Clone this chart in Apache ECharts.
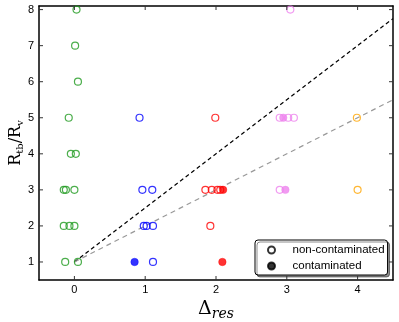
<!DOCTYPE html>
<html>
<head>
<meta charset="utf-8">
<script src="https://cdn.jsdelivr.net/npm/echarts@6/dist/echarts.min.js"></script>
<style>
  html, body { margin: 0; padding: 0; background: #fff; }
  #chart { width: 399px; height: 322px; }
</style>
</head>
<body>
<div id="chart"></div>
<script>
// open = non-contaminated, filled = contaminated
const greenOpen = [[0.03, 8], [0.01, 7], [0.05, 6], [-0.08, 5], [-0.05, 4], [0.02, 4],
  [-0.15, 3], [-0.12, 3], [0.0, 3], [-0.15, 2], [-0.07, 2], [0.0, 2], [-0.13, 1], [0.05, 1]];
const blueOpen = [[0.92, 5], [0.96, 3], [1.1, 3], [0.98, 2], [1.02, 2], [1.11, 2], [1.11, 1]];
const blueFilled = [[0.85, 1]];
const redOpen = [[1.99, 5], [1.85, 3], [1.94, 3], [2.02, 3], [2.06, 3], [1.92, 2]];
const redFilled = [[2.1, 3], [2.09, 1]];
const violetOpen = [[3.05, 8], [2.9, 5], [3.02, 5], [3.1, 5], [2.9, 3]];
const violetFilled = [[2.95, 5], [2.98, 3]];
const orangeOpen = [[3.99, 5], [4.0, 3]];

// dashed guide lines through (0,1)
const steepLine = [[0, 1], [4.5, 7.75]];
const shallowLine = [[0, 1], [4.5, 5.5]];

const xTicks = [0, 1, 2, 3, 4];
const yTicks = [1, 2, 3, 4, 5, 6, 7, 8];
const xRange = [-0.5, 4.5];
const yRange = [0.5, 8.1];

const chart = echarts.init(document.getElementById("chart"));

function openSeries(data, color) {
  return {
    type: "scatter",
    data: data,
    symbol: "circle",
    symbolSize: 7,
    itemStyle: { color: "rgba(0,0,0,0)", borderColor: color, borderWidth: 1.2 },
    z: 3,
  };
}
function filledSeries(data, color) {
  return {
    type: "scatter",
    data: data,
    symbol: "circle",
    symbolSize: 7.5,
    itemStyle: { color: color, borderColor: color, borderWidth: 0.5 },
    z: 4,
  };
}

// inward tick marks on the four sides of the frame
function tickSeries(points, dx, dy) {
  return {
    type: "custom",
    coordinateSystem: "cartesian2d",
    silent: true,
    clip: false,
    z: 5,
    data: points,
    renderItem: (params, api) => {
      const p = api.coord([api.value(0), api.value(1)]);
      return {
        type: "line",
        shape: { x1: p[0], y1: p[1], x2: p[0] + dx, y2: p[1] + dy },
        style: { stroke: "#333", lineWidth: 1 },
      };
    },
  };
}

const frame = { show: true, onZero: false, lineStyle: { color: "#000", width: 1.5 } };
const labelFont = { fontFamily: "Liberation Sans", fontSize: 11, color: "#000" };

const option = {
  backgroundColor: "#fff",
  animation: false,
  grid: { left: 39, right: 6, top: 6, bottom: 42, outerBoundsMode: "none", containLabel: false },
  xAxis: [
    {
      type: "value",
      min: xRange[0],
      max: xRange[1],
      axisLine: frame,
      axisTick: { show: false },
      axisLabel: Object.assign({ margin: 4, customValues: xTicks }, labelFont),
      splitLine: { show: false },
      name: "{d|Δ}{s|res}",
      nameLocation: "middle",
      nameGap: 16,
      nameTextStyle: {
        rich: {
          d: { fontFamily: "DejaVu Serif", fontSize: 19, color: "#000" },
          s: { fontFamily: "DejaVu Serif", fontStyle: "italic", fontSize: 14, color: "#000", padding: [10, 0, 0, 0] },
        },
      },
    },
    {
      type: "value",
      position: "top",
      min: xRange[0],
      max: xRange[1],
      axisLine: frame,
      axisTick: { show: false },
      axisLabel: { show: false },
      splitLine: { show: false },
    },
  ],
  yAxis: [
    {
      type: "value",
      min: yRange[0],
      max: yRange[1],
      axisLine: frame,
      axisTick: { show: false },
      axisLabel: Object.assign({ margin: 5, customValues: yTicks }, labelFont),
      splitLine: { show: false },
      name: "{r|R}{s|tb}{r|/R}{s|v}",
      nameLocation: "middle",
      nameRotate: 90,
      nameGap: 14,
      nameMoveOverlap: false,
      nameTextStyle: {
        rich: {
          r: { fontFamily: "DejaVu Serif", fontSize: 16, color: "#000" },
          s: { fontFamily: "DejaVu Serif", fontSize: 10, color: "#000", padding: [8, 0, 0, 0] },
        },
      },
    },
    {
      type: "value",
      position: "right",
      min: yRange[0],
      max: yRange[1],
      axisLine: frame,
      axisTick: { show: false },
      axisLabel: { show: false },
      splitLine: { show: false },
    },
  ],
  legend: {
    left: 255,
    top: 240,
    orient: "vertical",
    padding: [4, 3, 3, 12],
    itemGap: 4,
    itemWidth: 8,
    itemHeight: 7,
    backgroundColor: "#fff",
    borderColor: "#000",
    borderWidth: 1,
    borderRadius: 3,
    shadowColor: "rgba(0,0,0,0.45)",
    shadowOffsetX: 2,
    shadowOffsetY: 2,
    shadowBlur: 0,
    textStyle: { fontFamily: "Liberation Sans", fontSize: 11.5, color: "#000", padding: [0, 0, 0, 12] },
    data: ["non-contaminated", "contaminated"],
  },
  series: [
    {
      type: "line",
      data: steepLine,
      symbol: "none",
      lineStyle: { color: "#000", width: 1.2, type: [4, 3] },
      z: 2,
    },
    {
      type: "line",
      data: shallowLine,
      symbol: "none",
      lineStyle: { color: "#999", width: 1.2, type: [5, 4] },
      z: 2,
    },
    openSeries(greenOpen, "#1f9a1f"),
    openSeries(blueOpen, "#0000ff"),
    filledSeries(blueFilled, "#0000ff"),
    openSeries(redOpen, "#ff0000"),
    filledSeries(redFilled, "#ff0000"),
    openSeries(violetOpen, "#ee82ee"),
    filledSeries(violetFilled, "#ee82ee"),
    openSeries(orangeOpen, "#ffa500"),
    tickSeries(xTicks.map((v) => [v, yRange[0]]), 0, -4),
    tickSeries(xTicks.map((v) => [v, yRange[1]]), 0, 4),
    tickSeries(yTicks.map((v) => [xRange[0], v]), 4, 0),
    tickSeries(yTicks.map((v) => [xRange[1], v]), -4, 0),
    Object.assign(openSeries([], "#000"), { name: "non-contaminated" }),
    Object.assign(filledSeries([], "#000"), { name: "contaminated" }),
  ],
};

chart.setOption(option);
</script>
</body>
</html>
